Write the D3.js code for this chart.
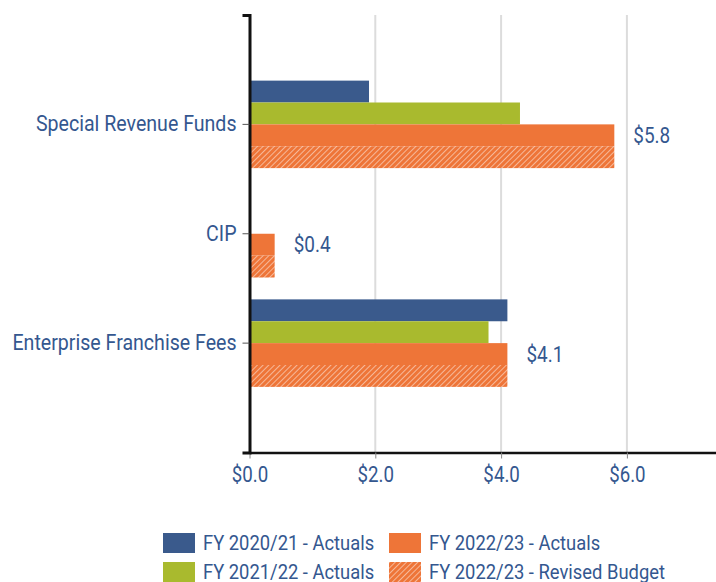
<!DOCTYPE html>
<html>
<head>
<meta charset="utf-8">
<script src="https://cdn.jsdelivr.net/npm/d3@7"></script>
<style>
  body { margin: 0; background: #fff; }
  text { font-family: Roboto, "Liberation Sans", sans-serif; fill: #34578f; }
</style>
</head>
<body>
<svg width="716" height="582"></svg>
<script>
var categories = ["Special Revenue Funds", "CIP", "Enterprise Franchise Fees"];
var seriesNames = ["FY 2020/21 - Actuals", "FY 2021/22 - Actuals", "FY 2022/23 - Actuals", "FY 2022/23 - Revised Budget"];
var fy2021 = [1.9, 0, 4.1];
var fy2122 = [4.3, 0, 3.8];
var fy2223 = [5.8, 0.4, 4.1];
var fy2223Budget = [5.8, 0.4, 4.1];
var xTicks = [0, 2, 4, 6];
var colors = ["#3a5a8c", "#a9ba2e", "#ee7538", "url(#hatch)"];

var svg = d3.select("svg"),
    width = +svg.attr("width"),
    height = +svg.attr("height"),
    fmt = d3.format(".1f");

// squeeze Roboto into something close to a condensed face
function condense(k) {
  return function (sel) {
    sel.each(function () {
      this.setAttribute("textLength", this.getComputedTextLength() * k);
      this.setAttribute("lengthAdjust", "spacingAndGlyphs");
    });
  };
}

var defs = svg.append("defs");
var pat = defs.append("pattern")
    .attr("id", "hatch")
    .attr("patternUnits", "userSpaceOnUse")
    .attr("width", 4)
    .attr("height", 4)
    .attr("patternTransform", "rotate(45)");
pat.append("rect").attr("width", 4).attr("height", 4).attr("fill", "#ee7538");
pat.append("line")
    .attr("x1", 0).attr("y1", 0).attr("x2", 0).attr("y2", 4)
    .attr("stroke", "#fff").attr("stroke-width", 1.3).attr("stroke-opacity", 0.75);

var x = d3.scaleLinear().domain([0, 7.5]).range([249.5, 249.5 + 7.5 * 62.9]);
var y0 = d3.scaleBand().domain(categories).range([15, 452.5])
    .paddingInner(0.2).paddingOuter(0.6);
var y1 = d3.scaleBand().domain(seriesNames).range([0, y0.bandwidth()]);

var rows = categories.map(function (c, i) {
  return { cat: c, values: [fy2021[i], fy2122[i], fy2223[i], fy2223Budget[i]] };
});

// grid
svg.append("g").selectAll("line")
  .data(xTicks.slice(1))
  .enter().append("line")
    .attr("x1", x).attr("x2", x)
    .attr("y1", 15).attr("y2", 452)
    .attr("stroke", "#dcdcdc")
    .attr("stroke-width", 2);

// bars
var groups = svg.append("g").selectAll("g")
  .data(rows)
  .enter().append("g")
    .attr("transform", function (d) { return "translate(0," + y0(d.cat) + ")"; });

groups.selectAll("rect")
  .data(function (d) { return d.values.map(function (v, j) { return { s: seriesNames[j], v: v, j: j }; }); })
  .enter().append("rect")
    .filter(function (d) { return d.v > 0; })
    .attr("x", x(0))
    .attr("y", function (d) { return y1(d.s); })
    .attr("width", function (d) { return x(d.v) - x(0); })
    .attr("height", y1.bandwidth())
    .attr("fill", function (d) { return colors[d.j]; });

// value labels next to the FY 2022/23 actuals bar
groups.append("text")
    .attr("x", function (d) { return x(d.values[2]) + 19; })
    .attr("y", y1(seriesNames[2]) + y1.bandwidth() / 2)
    .attr("dy", "0.35em")
    .style("font-size", "22px")
    .text(function (d) { return "$" + fmt(d.values[2]); })
    .call(condense(0.86));

// axes
var xAxis = svg.append("g")
    .attr("transform", "translate(0,452.5)")
    .call(d3.axisBottom(x).tickValues(xTicks).tickSize(6).tickSizeOuter(0)
      .tickPadding(8).tickFormat(function (d) { return "$" + fmt(d); }));
xAxis.select(".domain").attr("stroke", "#111").attr("stroke-width", 2.5);
xAxis.selectAll(".tick line").attr("stroke", "#888");
xAxis.selectAll("text")
    .style("font-size", "22px")
    .attr("fill", "#34578f")
    .call(condense(0.85));

var yAxis = svg.append("g")
    .attr("transform", "translate(249.5,0)")
    .call(d3.axisLeft(y0).tickSize(7).tickSizeOuter(7).tickPadding(6));
yAxis.select(".domain").attr("stroke", "#111").attr("stroke-width", 3);
yAxis.selectAll(".tick line").attr("stroke", "#555");
yAxis.selectAll("text")
    .style("font-size", "22px")
    .attr("fill", "#34578f")
    .call(condense(0.89));

// legend, two columns
var legend = svg.append("g").selectAll("g")
  .data(seriesNames)
  .enter().append("g")
    .attr("transform", function (d, i) {
      return "translate(" + (i < 2 ? 163 : 389) + "," + (533 + (i % 2) * 29) + ")";
    });
legend.append("rect")
    .attr("width", 32).attr("height", 20)
    .attr("fill", function (d, i) { return colors[i]; });
legend.append("text")
    .attr("x", 40).attr("y", 10).attr("dy", "0.35em")
    .style("font-size", "21px")
    .text(function (d) { return d; })
    .call(condense(0.875));
</script>
</body>
</html>
